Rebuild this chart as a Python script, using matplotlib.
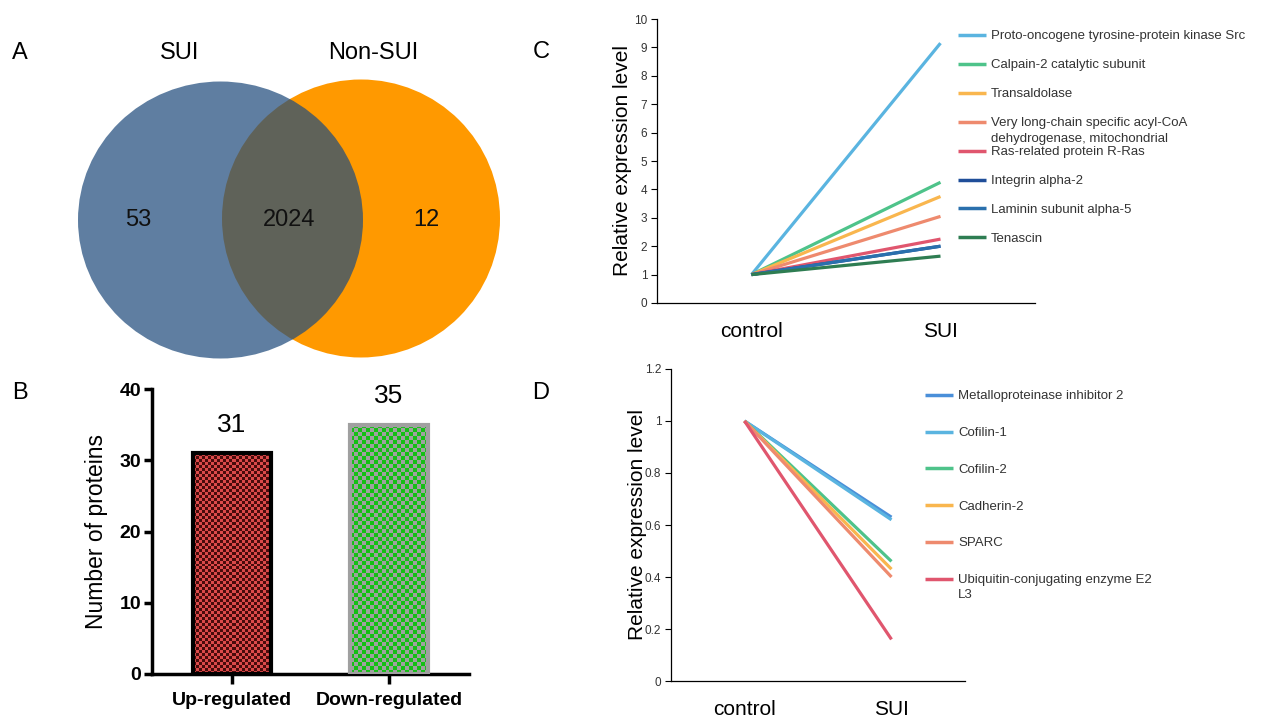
import numpy as np
import matplotlib
matplotlib.use("Agg")
import matplotlib.pyplot as plt
from matplotlib.patches import Circle, Ellipse
from matplotlib.colors import to_rgb

plt.rcParams['font.family'] = ['Liberation Sans', 'DejaVu Sans']

# figure size in pixels
W, H = 1262, 717

# ---- data ----
# A: venn
venn_sets = ['SUI', 'Non-SUI']
venn_counts = [53, 2024, 12]   # SUI only, shared, Non-SUI only

# B: regulated proteins
reg_labels = ['Up-regulated', 'Down-regulated']
reg_counts = [31, 35]

# C / D: relative expression
groups = ['control', 'SUI']
control_level = 1.0

up_names = ['Proto-oncogene tyrosine-protein kinase Src',
            'Calpain-2 catalytic subunit',
            'Transaldolase',
            'Very long-chain specific acyl-CoA\ndehydrogenase, mitochondrial',
            'Ras-related protein R-Ras',
            'Integrin alpha-2',
            'Laminin subunit alpha-5',
            'Tenascin']
up_sui = [9.15, 4.25, 3.75, 3.05, 2.25, 2.0, 2.0, 1.65]
up_colors = ['#5ab4e0', '#4ec38a', '#f9b64e', '#ee8a6e',
             '#e0566e', '#1f4e99', '#2a70ad', '#2e7d52']

down_names = ['Metalloproteinase inhibitor 2',
              'Cofilin-1',
              'Cofilin-2',
              'Cadherin-2',
              'SPARC',
              'Ubiquitin-conjugating enzyme E2\nL3']
down_sui = [0.63, 0.62, 0.46, 0.43, 0.40, 0.16]
down_colors = ['#4a8fd9', '#5ab4e0', '#4ec38a', '#f9b64e', '#ee8a6e', '#e0566e']


def px_rect(x0, y0, x1, y1):
    # pixel box (top-left origin) -> figure fraction rect
    return [x0 / W, 1 - y1 / H, (x1 - x0) / W, (y1 - y0) / H]


fig = plt.figure(figsize=(W / 100, H / 100), dpi=100)

# overlay axes in pixel coordinates for venn, panel letters and legends
ov = fig.add_axes([0, 0, 1, 1])
ov.set_xlim(0, W)
ov.set_ylim(H, 0)
ov.axis('off')
ov.set_zorder(10)

# ---- A: venn ----
ov.add_patch(Circle((361, 218.5), 139, facecolor='#ff9900', edgecolor='none'))
ov.add_patch(Ellipse((220.5, 220), 285, 277, facecolor='#214d7d', alpha=0.72, edgecolor='none'))
ov.text(180, 53, venn_sets[0], fontsize=17, ha='center', va='center')
ov.text(373, 53, venn_sets[1], fontsize=17, ha='center', va='center')
for xx, cnt in zip([138, 289, 426], venn_counts):
    ov.text(xx, 220, str(cnt), fontsize=17, ha='center', va='center', color='#111111')

# panel letters
for lab, (xx, yy) in zip('ABCD', [(20, 53), (20, 393), (541, 52), (541, 393)]):
    ov.text(xx, yy, lab, fontsize=17, ha='center', va='center')

# ---- B: bar chart ----
axb = fig.add_axes(px_rect(152, 389, 469, 674))
xpos = np.arange(len(reg_labels))
bars = axb.bar(xpos, reg_counts, width=0.5, facecolor='none',
               edgecolor=['#000000', '#a0a0a0'], linewidth=3, zorder=3)
axb.set_xlim(-0.51, 1.51)
axb.set_ylim(0, 40)
axb.set_yticks(np.arange(0, 41, 10))
axb.set_xticks(xpos)
axb.set_xticklabels(reg_labels, fontsize=14, fontweight='bold')
for t in axb.get_yticklabels():
    t.set_fontsize(14)
    t.set_fontweight('bold')
for s in ['top', 'right']:
    axb.spines[s].set_visible(False)
for s in ['left', 'bottom']:
    axb.spines[s].set_linewidth(2.5)
axb.tick_params(axis='y', width=2.5, length=6, pad=2)
axb.tick_params(axis='x', width=2.5, length=7, pad=6)
axb.set_ylabel('Number of proteins', fontsize=16.5)
axb.yaxis.set_label_coords(-0.139, 0.5)

# checkerboard fill for each bar
checks = [('#dc4a4a', '#4a0c0c', 3.0), ('#14c014', '#a0a0a0', 4.0)]
for bar, (c1, c2, sq) in zip(bars, checks):
    x0, y0 = bar.get_x(), bar.get_y()
    w, h = bar.get_width(), bar.get_height()
    p0 = axb.transData.transform((x0, y0))
    p1 = axb.transData.transform((x0 + w, y0 + h))
    nx = max(1, int(round((p1[0] - p0[0]) / sq)))
    ny = max(1, int(round((p1[1] - p0[1]) / sq)))
    grid = np.add.outer(np.arange(ny), np.arange(nx)) % 2
    img = np.where(grid[..., None] == 0, np.array(to_rgb(c1)), np.array(to_rgb(c2)))
    axb.imshow(img, extent=(x0, x0 + w, y0, y0 + h), origin='lower', aspect='auto',
               interpolation='nearest', zorder=2, clip_path=bar)
axb.set_xlim(-0.51, 1.51)
axb.set_ylim(0, 40)

for xx, v in zip(xpos, reg_counts):
    axb.text(xx, v + 2.3, str(v), ha='center', va='bottom', fontsize=19, clip_on=False)


def line_panel(rect, names, sui_vals, colors, ymax, yticks, ytlabels, label_x,
               key_x, row0, step):
    ax = fig.add_axes(rect)
    for nm, v, c in zip(names, sui_vals, colors):
        ax.plot([0, 1], [control_level, v], color=c, lw=2.3, solid_capstyle='butt')
    ax.set_xlim(-0.5, 1.5)
    ax.set_ylim(0, ymax)
    ax.set_yticks(yticks)
    ax.set_yticklabels(ytlabels)
    ax.set_xticks([0, 1])
    ax.set_xticklabels(groups, fontsize=15)
    ax.tick_params(axis='x', length=0, pad=14)
    ax.tick_params(axis='y', length=4, width=0.8, labelsize=8.5, labelcolor='#333333', pad=3)
    for s in ['top', 'right']:
        ax.spines[s].set_visible(False)
    for s in ['left', 'bottom']:
        ax.spines[s].set_linewidth(0.9)
    ax.set_ylabel('Relative expression level', fontsize=15)
    ax.yaxis.set_label_coords(label_x, 0.5)
    # legend keys, drawn on the pixel overlay
    for i, (nm, c) in enumerate(zip(names, colors)):
        yy = row0 + i * step
        ov.plot([key_x, key_x + 28], [yy, yy], color=c, lw=2.5, solid_capstyle='butt')
        for k, part in enumerate(nm.split('\n')):
            ov.text(key_x + 33, yy + k * 15.5, part, fontsize=9.5, color='#333333',
                    ha='left', va='center_baseline')
    return ax


# ---- C ----
line_panel(px_rect(657, 19, 1035, 303), up_names, up_sui, up_colors, 10,
           np.arange(0, 11), [str(v) for v in range(11)], -0.066, 958, 35, 28.9)

# ---- D ----
dticks = [0, 0.2, 0.4, 0.6, 0.8, 1.0, 1.2]
line_panel(px_rect(671, 369, 965, 681), down_names, down_sui, down_colors, 1.2,
           dticks, ['0', '0.2', '0.4', '0.6', '0.8', '1', '1.2'], -0.082, 925, 395, 36.7)

fig.savefig('out.png', dpi=100)
